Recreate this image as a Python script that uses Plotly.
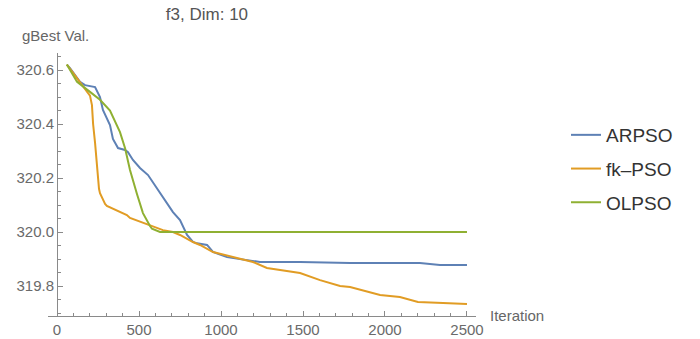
import plotly.graph_objects as go

arpso_x = [60, 79, 140, 171, 232, 250, 262, 280, 311, 323, 341, 372, 415, 433, 463, 506, 555, 610, 659, 707, 750, 793, 829, 854, 915, 951, 1037, 1159, 1238, 1482, 1787, 2213, 2335, 2500]
arpso_y = [320.62, 320.607, 320.556, 320.544, 320.537, 320.515, 320.5, 320.452, 320.407, 320.396, 320.345, 320.311, 320.304, 320.296, 320.267, 320.237, 320.211, 320.163, 320.119, 320.074, 320.044, 319.989, 319.963, 319.958, 319.952, 319.926, 319.907, 319.896, 319.889, 319.889, 319.885, 319.885, 319.878, 319.878]

fk_x = [60, 140, 189, 201, 213, 220, 232, 244, 256, 262, 293, 304, 365, 426, 445, 547, 567, 646, 707, 750, 829, 872, 951, 1073, 1195, 1280, 1482, 1604, 1726, 1787, 1970, 2091, 2201, 2354, 2500]
fk_y = [320.62, 320.556, 320.515, 320.505, 320.47, 320.40, 320.33, 320.24, 320.16, 320.144, 320.104, 320.097, 320.081, 320.063, 320.052, 320.028, 320.026, 320.007, 320.0, 319.989, 319.963, 319.952, 319.926, 319.907, 319.889, 319.867, 319.848, 319.822, 319.8, 319.796, 319.767, 319.759, 319.741, 319.737, 319.733]

ol_x = [60, 122, 201, 262, 323, 354, 384, 415, 445, 488, 524, 567, 579, 628, 671, 2500]
ol_y = [320.62, 320.556, 320.519, 320.49, 320.45, 320.41, 320.37, 320.31, 320.23, 320.14, 320.07, 320.022, 320.012, 320.0, 320.0, 320.0]

series = [
    ("ARPSO", arpso_x, arpso_y, "#5E81B5"),
    ("fk\u2013PSO", fk_x, fk_y, "#E19C24"),
    ("OLPSO", ol_x, ol_y, "#8FB032"),
]

fig = go.Figure()
for i, (name, xs, ys, col) in enumerate(series):
    fig.add_trace(go.Scatter(x=xs, y=ys, mode="lines", name=name, legendgroup=str(i),
                             line=dict(color=col, width=2)))

axcol = "#8a8a8a"
tickfont = dict(family="Liberation Sans, Arial, sans-serif", size=15, color="#6a6a6a")
fig.update_layout(
    width=700, height=339,
    margin=dict(l=48, r=224, t=53, b=23),
    paper_bgcolor="white", plot_bgcolor="white",
    title=dict(text="f3, Dim: 10", x=260/700, xanchor="center", xref="paper", y=1-14/339, yanchor="middle",
               font=dict(family="Liberation Sans, Arial, sans-serif", size=17, color="#555555"), automargin=False),
    xaxis=dict(range=[-55, 2555], showgrid=False, zeroline=False, showline=True, linecolor=axcol, linewidth=1,
               automargin=False,
               ticks="inside", ticklen=5, tickcolor=axcol, tick0=0, dtick=500, tickfont=tickfont,
               minor=dict(dtick=100, tick0=0, ticks="inside", ticklen=3, tickcolor=axcol, showgrid=False)),
    yaxis=dict(range=[319.689, 320.663], showgrid=False, zeroline=False, showline=True, linecolor=axcol, linewidth=1,
               automargin=False, anchor="free", position=55/2610,
               ticks="inside", ticklen=5, tickcolor=axcol, tick0=319.8, dtick=0.2, tickformat=".1f", tickfont=tickfont,
               minor=dict(dtick=0.05, tick0=319.8, ticks="inside", ticklen=3, tickcolor=axcol, showgrid=False)),
    legend=dict(xref="container", yref="container", x=566/700, y=1-116/339, xanchor="left", yanchor="top",
                font=dict(family="Liberation Sans, Arial, sans-serif", size=19, color="#333333"),
                tracegroupgap=6, bgcolor="rgba(0,0,0,0)"),
    showlegend=True,
    annotations=[
        dict(text="gBest Val.", xref="paper", yref="paper", x=(20-48)/428, y=(339-23-35)/263, xanchor="left", yanchor="middle",
             showarrow=False, font=dict(family="Liberation Sans, Arial, sans-serif", size=15, color="#666666")),
        dict(text="Iteration", xref="paper", yref="paper", x=(488-48)/428, y=(339-23-315)/263, xanchor="left", yanchor="middle",
             showarrow=False, font=dict(family="Liberation Sans, Arial, sans-serif", size=15, color="#666666")),
    ],
)

fig.write_html("out.html")
